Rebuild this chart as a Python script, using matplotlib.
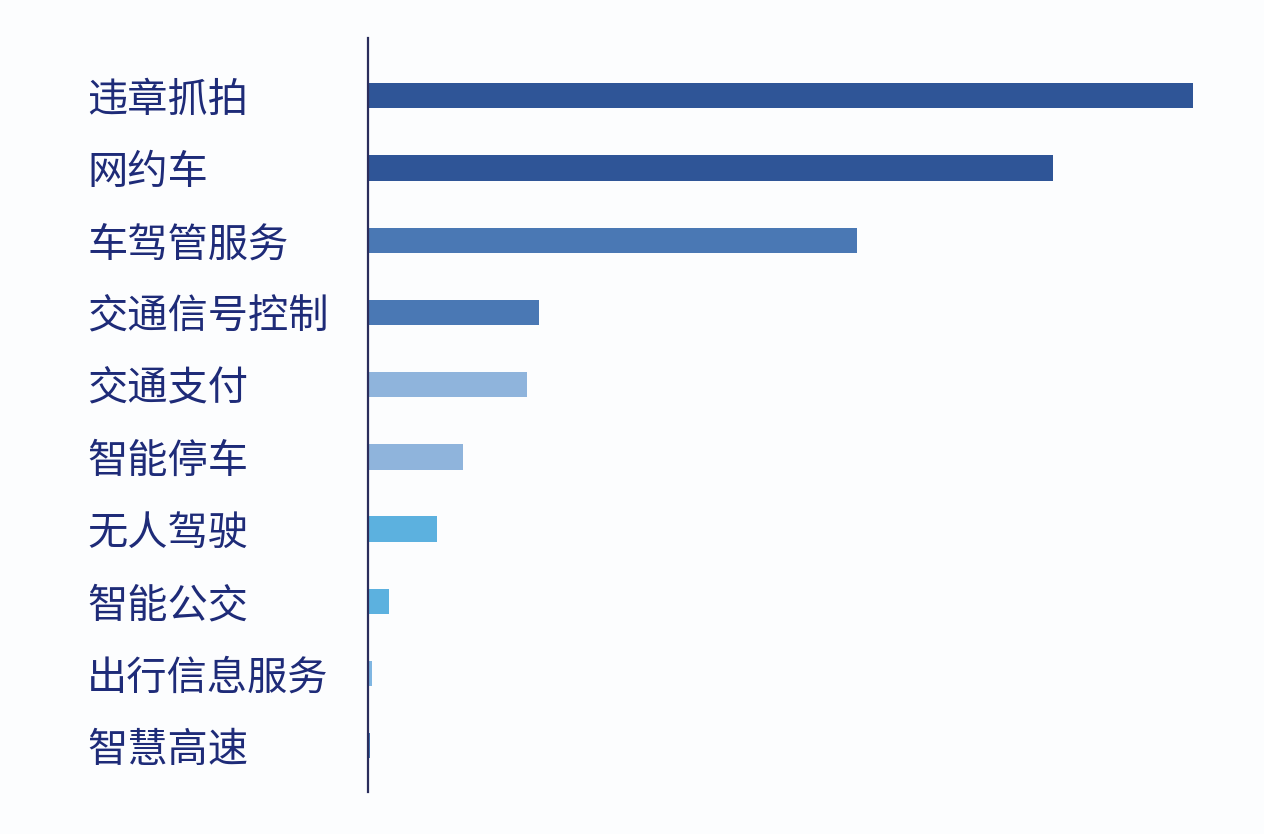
import matplotlib
matplotlib.use("Agg")
import matplotlib.pyplot as plt

plt.rcParams['font.family'] = ['Noto Sans CJK SC', 'DejaVu Sans']

categories = ["违章抓拍", "网约车", "车驾管服务", "交通信号控制", "交通支付",
              "智能停车", "无人驾驶", "智能公交", "出行信息服务", "智慧高速"]
values = [82.5, 68.5, 48.9, 17.1, 15.9, 9.5, 6.9, 2.1, 0.4, 0.15]
colors = ["#2f5597", "#2f5597", "#4a78b4", "#4a78b4", "#8fb4dc",
          "#8fb4dc", "#5cb1df", "#5cb1df", "#7fb6e2", "#3f72b0"]

W, H = 1264, 834
fig = plt.figure(figsize=(W / 100, H / 100), dpi=100, facecolor="#fcfdfe")
ax = fig.add_axes([368 / W, 1 - 792 / H, (1193 - 368) / W, (792 - 38) / H])
ax.set_facecolor("#fcfdfe")

y = list(range(len(categories)))
ax.barh(y, values, height=0.35, color=colors, zorder=2)
ax.set_xlim(0, values[0])
ax.set_ylim(9.64, -0.80)

for s in ["top", "right", "bottom"]:
    ax.spines[s].set_visible(False)
ax.spines["left"].set_color("#2a2d5c")
ax.spines["left"].set_linewidth(1.6)
ax.spines["left"].set_zorder(3)
ax.set_xticks([])
ax.set_yticks(y)
ax.set_yticklabels(categories, fontsize=29, color="#1e2b78", ha="left")
ax.tick_params(axis="y", length=0, pad=(368 - 87) * 0.72)

fig.savefig("out.png", dpi=100, facecolor=fig.get_facecolor())
